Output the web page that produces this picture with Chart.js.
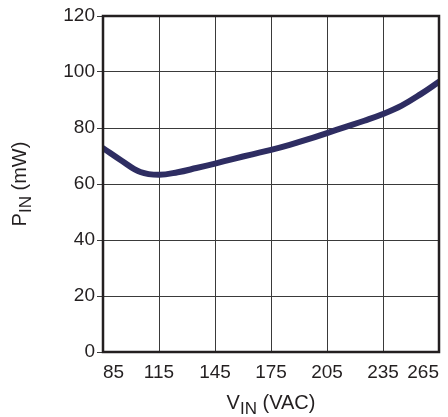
<!DOCTYPE html>
<html>
<head>
<meta charset="utf-8">
<script src="https://cdn.jsdelivr.net/npm/chart.js@4"></script>
<style>
  html, body { margin: 0; padding: 0; background: #ffffff; }
  #wrap { width: 448px; height: 417px; position: relative; }
</style>
</head>
<body>
<div id="wrap"><canvas id="c" width="448" height="417"></canvas></div>
<script>
const vinValues = [85, 95, 105, 115, 125, 135, 145, 155, 165, 175, 185, 195, 205, 215, 225, 235, 245, 255, 265];
const pinValues = [72.8, 68.3, 64.3, 63.3, 64.2, 65.7, 67.3, 69.0, 70.6, 72.2, 74.0, 76.0, 78.2, 80.4, 82.6, 85.0, 88.0, 92.0, 96.5];
const xTicks = [85, 115, 145, 175, 205, 235, 265];
const yTicks = [0, 20, 40, 60, 80, 100, 120];
const xTitle = ['V', 'IN', ' (VAC)'];
const yTitle = ['P', 'IN', ' (mW)'];

const FONT = 'Liberation Sans, Arial, Helvetica, sans-serif';
const TEXT = '#231f20';

function drawSubTitle(ctx, parts, size, subSize, subDrop) {
  ctx.font = size + 'px ' + FONT;
  const w0 = ctx.measureText(parts[0]).width;
  const w2 = ctx.measureText(parts[2]).width;
  ctx.font = subSize + 'px ' + FONT;
  const w1 = ctx.measureText(parts[1]).width;
  const total = w0 + w1 + w2;
  let x = -total / 2;
  ctx.textAlign = 'left';
  ctx.textBaseline = 'alphabetic';
  ctx.font = size + 'px ' + FONT;
  ctx.fillText(parts[0], x, 0);
  x += w0;
  ctx.font = subSize + 'px ' + FONT;
  ctx.fillText(parts[1], x, subDrop);
  x += w1;
  ctx.font = size + 'px ' + FONT;
  ctx.fillText(parts[2], x, 0);
}

const framePlugin = {
  id: 'frame',
  afterDatasetsDraw(chart) {
    const a = chart.chartArea;
    const ctx = chart.ctx;
    ctx.save();
    ctx.strokeStyle = '#231f20';
    ctx.lineWidth = 2.5;
    ctx.strokeRect(a.left, a.top, a.right - a.left, a.bottom - a.top);
    ctx.restore();
  },
  afterDraw(chart) {
    const a = chart.chartArea;
    const ctx = chart.ctx;
    ctx.save();
    ctx.fillStyle = TEXT;
    ctx.save();
    ctx.translate((a.left + a.right) / 2, 408.5);
    drawSubTitle(ctx, xTitle, 20, 17, 5);
    ctx.restore();
    ctx.save();
    ctx.translate(26, 184);
    ctx.rotate(-Math.PI / 2);
    drawSubTitle(ctx, yTitle, 20, 17, 5);
    ctx.restore();
    ctx.restore();
  }
};

new Chart(document.getElementById('c'), {
  type: 'line',
  data: {
    datasets: [{
      data: vinValues.map((v, i) => ({ x: v, y: pinValues[i] })),
      borderColor: '#2e2d62',
      borderWidth: 6,
      borderCapStyle: 'round',
      borderJoinStyle: 'round',
      pointRadius: 0,
      tension: 0.4,
      fill: false
    }]
  },
  options: {
    responsive: false,
    animation: false,
    devicePixelRatio: 1,
    layout: { padding: { top: 16, right: 9, left: 0, bottom: 0 } },
    plugins: { legend: { display: false }, tooltip: { enabled: false } },
    scales: {
      x: {
        type: 'linear',
        min: 85, max: 265,
        afterBuildTicks(s) { s.ticks = xTicks.map(v => ({ value: v })); },
        afterFit(s) { s.height = 65; s.paddingLeft = 0; s.paddingRight = 0; },
        grid: { color: '#3a3a3a', lineWidth: 1, drawTicks: false },
        border: { display: false },
        ticks: { align: 'inner', padding: 9, color: TEXT, font: { family: FONT, size: 19 } }
      },
      y: {
        type: 'linear',
        min: 0, max: 120,
        afterBuildTicks(s) { s.ticks = yTicks.map(v => ({ value: v })); },
        afterFit(s) { s.width = 103; s.paddingTop = 0; s.paddingBottom = 0; },
        grid: { color: '#3a3a3a', lineWidth: 1, drawTicks: true, tickLength: 6 },
        border: { display: false },
        ticks: { padding: 2, color: TEXT, font: { family: FONT, size: 19 } }
      }
    }
  },
  plugins: [framePlugin]
});
</script>
</body>
</html>
